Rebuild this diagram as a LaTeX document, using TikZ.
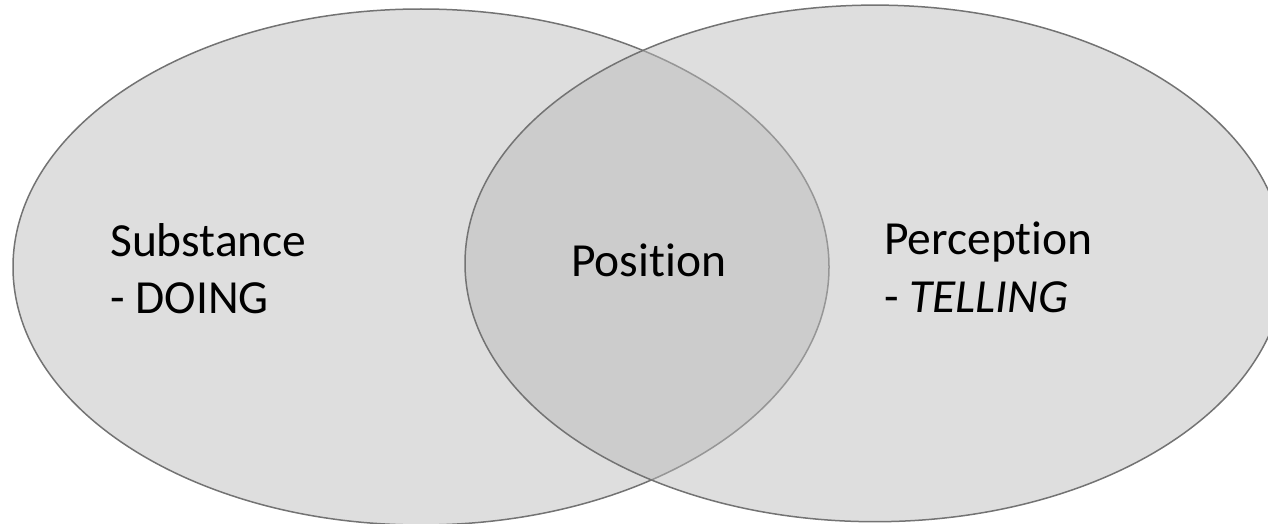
\documentclass[tikz,border=0pt]{standalone}
\usepackage{fontspec}
\setmainfont[Ligatures=NoCommon]{Carlito}
\begin{document}
\begin{tikzpicture}[x=1pt,y=-1pt,
  venn/.style={draw=black!55!white,line width=1.5pt},
  lbl/.style={inner sep=0pt,anchor=base west,font=\fontsize{47.5}{57}\selectfont}]
\useasboundingbox (0,0) rectangle (1268,524);
\definecolor{vfill}{HTML}{DEDEDE}
\definecolor{vtop}{HTML}{BBBBBB}
\draw[venn,fill=vfill] (421,267) ellipse [x radius=408, y radius=258];
\draw[venn,fill=vtop,fill opacity=0.485] (875,263.4) ellipse [x radius=410, y radius=258.3];
\node[lbl] (sub) at (110,256) {Substance};
\node[lbl] (doing) at (110,313) {- DOING};
\node[lbl] (pos) at (571,276) {Position};
\node[lbl] (per) at (884,254) {Perception};
\node[lbl] (tell) at (884,312) {- \textit{TELLING}};
\end{tikzpicture}
\end{document}
